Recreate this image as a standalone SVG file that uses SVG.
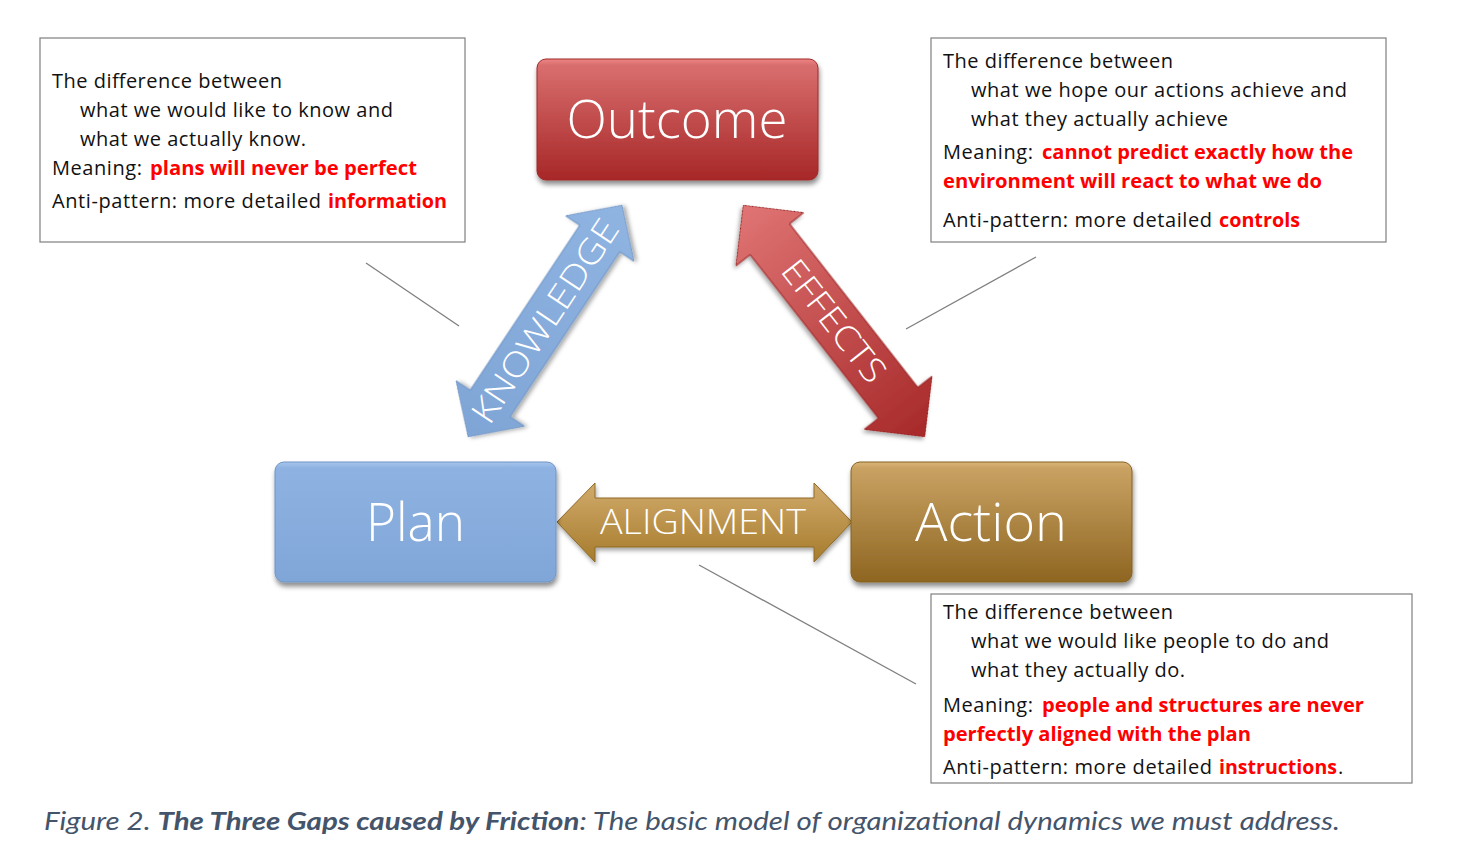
<svg xmlns="http://www.w3.org/2000/svg" width="1467" height="845" viewBox="0 0 1467 845">
<defs>
<linearGradient id="gOut" x1="0" y1="0" x2="0" y2="1"><stop offset="0" stop-color="#ef8585"/><stop offset="0.05" stop-color="#d96e6e"/><stop offset="1" stop-color="#a72727"/></linearGradient>
<linearGradient id="gPlan" x1="0" y1="0" x2="0" y2="1"><stop offset="0" stop-color="#a6c5ec"/><stop offset="0.05" stop-color="#8eb3e2"/><stop offset="1" stop-color="#80a6d8"/></linearGradient>
<linearGradient id="gAct" x1="0" y1="0" x2="0" y2="1"><stop offset="0" stop-color="#dbb578"/><stop offset="0.05" stop-color="#c9a263"/><stop offset="1" stop-color="#8e6521"/></linearGradient>
<linearGradient id="gAlign" x1="0" y1="0" x2="0" y2="1"><stop offset="0" stop-color="#d1ab6c"/><stop offset="1" stop-color="#a67b2c"/></linearGradient>
<linearGradient id="gKnow" x1="0" y1="0" x2="1" y2="0"><stop offset="0" stop-color="#7fa5d6"/><stop offset="1" stop-color="#8fb4e2"/></linearGradient>
<linearGradient id="gEff" x1="0" y1="0" x2="1" y2="0"><stop offset="0" stop-color="#e07474"/><stop offset="1" stop-color="#a72929"/></linearGradient>
<filter id="sh" x="-10%" y="-10%" width="120%" height="130%"><feDropShadow dx="1" dy="4" stdDeviation="2.5" flood-color="#000" flood-opacity="0.45"/></filter>
<filter id="sh2" x="-20%" y="-20%" width="140%" height="140%"><feDropShadow dx="1" dy="3" stdDeviation="2" flood-color="#000" flood-opacity="0.35"/></filter>
</defs>
<style>
.box{fill:#fff;stroke:#7f7f7f;stroke-width:1.2}
.t{font-family:"Open Sans","Liberation Sans",sans-serif;font-size:20px;fill:#111}
.r{font-family:"Open Sans","Liberation Sans",sans-serif;font-size:20px;font-weight:bold;fill:#ff0000}
.node{font-family:"Open Sans","Liberation Sans",sans-serif;font-weight:300;font-size:54px;fill:#fff;text-anchor:middle}
.lab{font-family:"Open Sans","Liberation Sans",sans-serif;font-weight:300;font-size:34px;fill:#fff;text-anchor:middle}
.cap{font-family:Lato,"Open Sans",sans-serif;font-style:italic;font-size:25px;fill:#44546a}
.conn{stroke:#7f7f7f;stroke-width:1.3;fill:none}
</style>
<rect width="1467" height="845" fill="#fff"/>

<g id="connectors">
<line class="conn" x1="366" y1="263" x2="459" y2="326"/>
<line class="conn" x1="906" y1="329" x2="1036" y2="257"/>
<line class="conn" x1="699" y1="565" x2="916" y2="684"/>
</g>

<g id="knowledge" transform="translate(545,321) rotate(-56.4)">
<polygon points="-139,0 -99,-41 -99,-24 99,-24 99,-41 139,0 99,41 99,24 -99,24 -99,41" fill="url(#gKnow)" stroke="#6f93c2" stroke-width="1" filter="url(#sh2)"/>
<text class="lab" x="0" y="12" textLength="237" lengthAdjust="spacingAndGlyphs">KNOWLEDGE</text>
</g>

<g id="effects" transform="translate(834,321) rotate(51.9)">
<polygon points="-147,0 -104,-43 -104,-25 104,-25 104,-43 147,0 104,43 104,25 -104,25 -104,43" fill="url(#gEff)" stroke="#9a2424" stroke-width="1" filter="url(#sh2)"/>
<text class="lab" x="0" y="12" textLength="146" lengthAdjust="spacingAndGlyphs">EFFECTS</text>
</g>

<g id="alignment">
<polygon points="557,522 595,483 595,498 814,498 814,483 852,522 814,562 814,547 595,547 595,562" fill="url(#gAlign)" stroke="#8f6a26" stroke-width="1" filter="url(#sh2)"/>
<text class="lab" x="703" y="534" textLength="206" lengthAdjust="spacingAndGlyphs">ALIGNMENT</text>
</g>

<g id="outcome">
<rect x="537" y="59" width="281" height="121" rx="9" fill="url(#gOut)" stroke="#9e2a2a" stroke-width="1" filter="url(#sh)"/>
<text class="node" x="677" y="138" textLength="221" lengthAdjust="spacingAndGlyphs">Outcome</text>
</g>

<g id="plan">
<rect x="275" y="462" width="281" height="120" rx="9" fill="url(#gPlan)" stroke="#6f94c4" stroke-width="1" filter="url(#sh)"/>
<text class="node" x="415.5" y="541" textLength="99" lengthAdjust="spacingAndGlyphs">Plan</text>
</g>

<g id="action">
<rect x="851" y="462" width="281" height="120" rx="9" fill="url(#gAct)" stroke="#85621f" stroke-width="1" filter="url(#sh)"/>
<text class="node" x="991" y="541" textLength="152" lengthAdjust="spacingAndGlyphs">Action</text>
</g>

<g id="note-knowledge">
<rect class="box" x="40" y="38" width="425" height="204"/>
<text class="t" x="52" y="88" textLength="230">The difference between</text>
<text class="t" x="80" y="117" textLength="313">what we would like to know and</text>
<text class="t" x="80" y="146" textLength="226">what we actually know.</text>
<text class="t" x="52" y="175" textLength="90">Meaning:</text>
<text class="r" x="150" y="175" textLength="267" lengthAdjust="spacingAndGlyphs">plans will never be perfect</text>
<text class="t" x="52" y="208" textLength="269">Anti-pattern: more detailed</text>
<text class="r" x="328" y="208" textLength="119" lengthAdjust="spacingAndGlyphs">information</text>
</g>

<g id="note-effects">
<rect class="box" x="931" y="38" width="455" height="204"/>
<text class="t" x="943" y="68" textLength="230">The difference between</text>
<text class="t" x="971" y="97" textLength="376">what we hope our actions achieve and</text>
<text class="t" x="971" y="126" textLength="257">what they actually achieve</text>
<text class="t" x="943" y="159" textLength="90">Meaning:</text>
<text class="r" x="1042" y="159" textLength="311" lengthAdjust="spacingAndGlyphs">cannot predict exactly how the</text>
<text class="r" x="943" y="188" textLength="379" lengthAdjust="spacingAndGlyphs">environment will react to what we do</text>
<text class="t" x="943" y="227" textLength="269">Anti-pattern: more detailed</text>
<text class="r" x="1219" y="227" textLength="81" lengthAdjust="spacingAndGlyphs">controls</text>
</g>

<g id="note-alignment">
<rect class="box" x="931" y="594" width="481" height="189"/>
<text class="t" x="943" y="619" textLength="230">The difference between</text>
<text class="t" x="971" y="648" textLength="358">what we would like people to do and</text>
<text class="t" x="971" y="677" textLength="214">what they actually do.</text>
<text class="t" x="943" y="712" textLength="90">Meaning:</text>
<text class="r" x="1042" y="712" textLength="322" lengthAdjust="spacingAndGlyphs">people and structures are never</text>
<text class="r" x="943" y="741" textLength="308" lengthAdjust="spacingAndGlyphs">perfectly aligned with the plan</text>
<text class="t" x="943" y="774" textLength="269">Anti-pattern: more detailed</text>
<text class="r" x="1219" y="774" textLength="118" lengthAdjust="spacingAndGlyphs">instructions</text>
<text class="t" x="1338" y="774">.</text>
</g>

<g id="caption">
<text class="cap" x="44" y="830" textLength="1296" lengthAdjust="spacingAndGlyphs">Figure 2. <tspan font-weight="bold">The Three Gaps caused by Friction</tspan>: The basic model of organizational dynamics we must address.</text>
</g>
</svg>
